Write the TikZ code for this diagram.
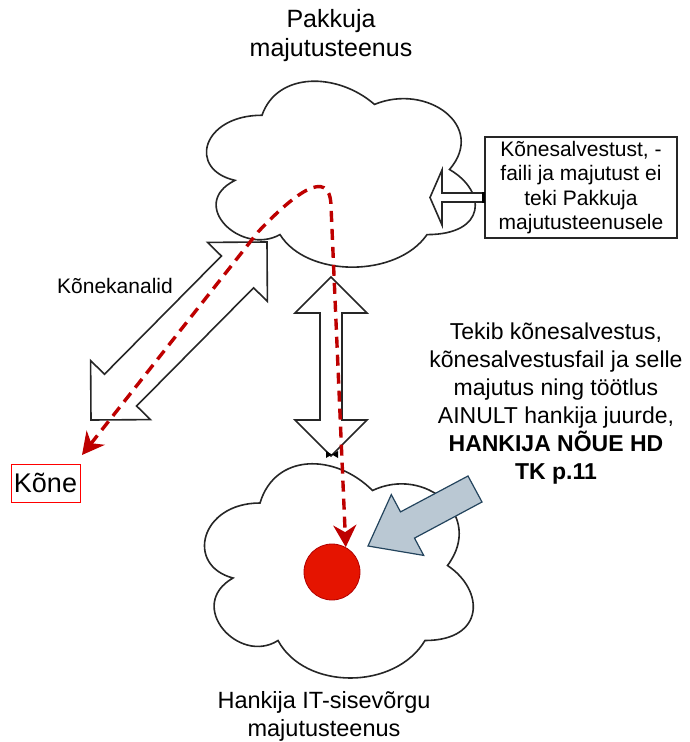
\documentclass[tikz,border=0pt]{standalone}
\usepackage{fontspec}
\setmainfont{Liberation Sans}
\usetikzlibrary{arrows.meta}

\definecolor{callred}{RGB}{190,0,0}
\definecolor{dotred}{RGB}{229,20,0}
\definecolor{dotrim}{RGB}{178,0,0}
\definecolor{slatefill}{RGB}{186,200,211}
\definecolor{slateline}{RGB}{35,68,93}

\tikzset{
  cloudline/.style={draw=black!85, line width=1.6pt, fill=white},
  bigarrow/.style={draw=black!85, line width=1.6pt, fill=white, line join=miter},
  callhead/.style={Stealth[length=22pt, width=23pt, inset=7pt]},
  calldash/.style={draw=callred, line width=3.4pt, dash pattern=on 11pt off 7pt,
    {Stealth[length=22pt, width=23pt, inset=7pt]}-{Stealth[length=22pt, width=23pt, inset=7pt]}},
  pics/cloudshape/.style={code={
    \path[cloudline] (0.25,0.25) .. controls (0.05,0.25) and (0,0.5) .. (0.16,0.55)
      .. controls (0,0.66) and (0.18,0.9) .. (0.31,0.8)
      .. controls (0.4,1) and (0.7,1) .. (0.8,0.8)
      .. controls (1,0.8) and (1,0.6) .. (0.875,0.5)
      .. controls (1,0.3) and (0.8,0.1) .. (0.625,0.2)
      .. controls (0.5,0.05) and (0.3,0.05) .. (0.25,0.25) -- cycle;}}
}

\begin{document}
\begin{tikzpicture}[x=1pt,y=-1pt]

        \useasboundingbox (0,0) rectangle (689,742);

        % clouds
        \pic[xscale=300, yscale=217] at (187,61) {cloudshape};
        \pic[xscale=300, yscale=250] at (185,440.5) {cloudshape};

        % texts
        \begin{scope}[every node/.style={align=center, inner sep=0}]
          \node[font=\fontsize{25}{29}\selectfont] (pakkuja) at (331,36) {Pakkuja\\majutusteenus};
          \node[font=\fontsize{23.5}{28}\selectfont] (hankija) at (324,716) {Hankija IT-sisevõrgu\\majutusteenus};
          \node[font=\fontsize{21}{25}\selectfont] (kanalid) at (115,286) {Kõnekanalid};
          \node[font=\fontsize{23}{28}\selectfont] (tekib) at (556,404)
            {Tekib kõnesalvestus,\\kõnesalvestusfail ja selle\\majutus ning töötlus\\AINULT hankija juurde,\\\textbf{HANKIJA NÕUE HD}\\\textbf{TK p.11}};
          \node[draw=red, line width=0.9pt, minimum width=69pt, minimum height=38pt,
                font=\fontsize{27}{30}\selectfont] (kone) at (45.5,483) {Kõne};
          \node[draw=black!85, line width=1.6pt, minimum width=192pt, minimum height=101pt,
                font=\fontsize{21}{24.5}\selectfont] (eiteki) at (581,187.5)
            {Kõnesalvestust, -\\faili ja majutust ei\\teki Pakkuja\\majutusteenusele};
        \end{scope}

        % block arrows
        \draw[bigarrow] (267,242) -- (267.4,301.4) -- (253.6,287.8) -- (136.6,406) -- (150.4,419.6)
          -- (91,420) -- (90.6,360.6) -- (104.5,374.2) -- (221.4,256) -- (207.6,242.4) -- cycle;
        \draw[bigarrow] (331,277) -- (367,313) -- (342,313) -- (342,420) -- (367,420)
          -- (331,456) -- (295,420) -- (320,420) -- (320,313) -- (295,313) -- cycle;
        \draw[bigarrow] (eiteki.west |- 0,193) -- (442,193) -- (442,170) -- (430,197.5)
          -- (442,225) -- (442,202) -- (eiteki.west |- 0,202);
        \fill[black] (481.5,192) rectangle (485,203);
        \fill[black] (326,451) -- (338,458) -- (338,451) -- (326,458) -- cycle;
        \draw[fill=slatefill, draw=slateline, line width=1.2pt, line join=miter]
          (468,476) -- (400.5,511.9) -- (391.3,494.6) -- (368,546) -- (423.7,555.4)
          -- (414.5,538.1) -- (482,502) -- cycle;

        % call recording
        \node[circle, fill=dotred, draw=dotrim, line width=0.8pt, minimum size=56pt, inner sep=0] (dot) at (332,572) {};
        \coordinate (konetip) at (82,455);
        \draw[calldash] (konetip) -- (258,232) .. controls (292,196) and (330,165) .. (331,206) -- (dot.61);

\end{tikzpicture}
\end{document}
